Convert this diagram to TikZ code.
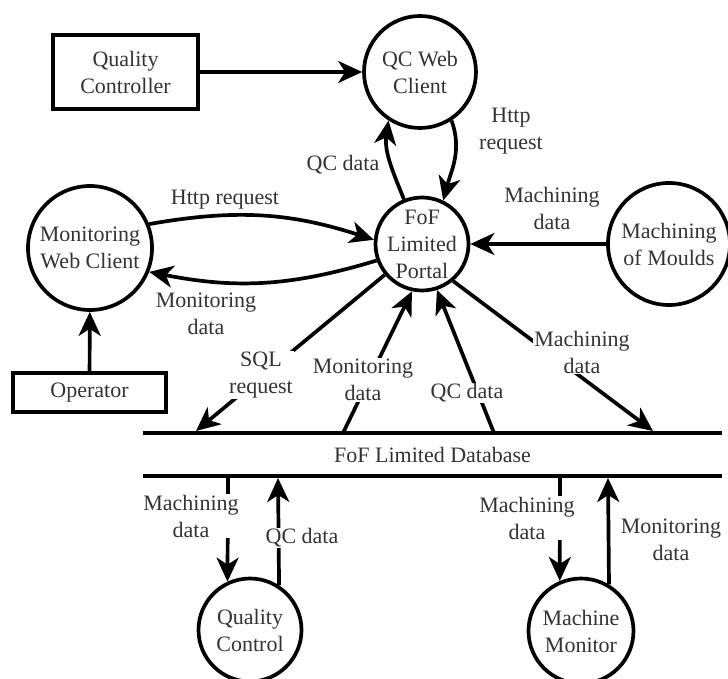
\documentclass[tikz,border=0pt]{standalone}
\usepackage{fontspec}
\setmainfont{Liberation Serif}
\usetikzlibrary{arrows.meta}
\tikzset{
    proc/.style = {circle, draw, line width=3.7pt, inner sep=-6pt, align=center},
    ext/.style = {rectangle, draw, line width=3.7pt, align=center},
    lbl/.style = {align=center, fill=white, inner sep=1pt},
    flow/.style = {line width=3.7pt, -{Stealth[length=24pt,width=22pt,inset=7pt]}},
}

\begin{document}
\begin{tikzpicture}[x=1pt, y=1pt, every node/.style={font=\fontsize{22}{27}\selectfont, text=black!80}]
    \useasboundingbox (0,0) rectangle (728,678);
    % entities and processes
    \node[ext, minimum width=145pt, minimum height=74pt] (qcc) at (125.5,606) {Quality\\Controller};
    \node[proc, minimum size=112pt] (qcweb) at (420,606) {QC Web\\Client};
    \node[proc, minimum size=93pt] (portal) at (422,434) {FoF\\Limited\\Portal};
    \node[proc, minimum size=122pt] (moulds) at (669,434) {Machining\\of Moulds};
    \node[proc, minimum size=124pt] (mweb) at (90,430) {Monitoring\\Web Client};
    \node[ext, minimum width=153pt, minimum height=39pt] (oper) at (89.5,285.5) {Operator};
    \node[proc, minimum size=103pt] (qctrl) at (250,48) {Quality\\Control};
    \node[proc, minimum size=105pt] (mmon) at (581,47) {Machine\\Monitor};
    % data store
    \node[minimum width=579pt, minimum height=43pt] (db) at (432.5,223.5) {FoF Limited Database};
    \draw[line width=3.7pt] (db.north west) -- (db.north east);
    \draw[line width=3.7pt] (db.south west) -- (db.south east);
    \coordinate (dbsql) at (196,247);
    \coordinate (dbmon) at (343,245);
    \coordinate (dbqc) at (494,245);
    \coordinate (dbmach) at (653,247);
    \coordinate (dbqca) at (228,202);
    \coordinate (dbqcb) at (278,200);
    \coordinate (dbmma) at (560,202);
    \coordinate (dbmmb) at (608,200);
    % flows
    \draw[flow] (qcc) -- (qcweb);
    \draw[flow] (portal.112) to[out=112, in=262] (qcweb.237);
    \draw[flow] (qcweb.303) to[out=-70, in=75] (portal.64);
    \draw[flow] (mweb.22) to[bend left=14] (portal.175);
    \draw[flow] (portal.200) to[bend left=14] (mweb.-22);
    \draw[flow] (moulds) -- (portal);
    \draw[flow] (oper) -- (mweb);
    \draw[flow] (portal) -- (dbsql);
    \draw[flow] (dbmon) -- (portal.258);
    \draw[flow] (dbqc) -- (portal.288);
    \draw[flow] (portal.310) -- (dbmach);
    \draw[flow] (dbqca) -- (qctrl.115);
    \draw[flow] (qctrl.57) -- (dbqcb);
    \draw[flow] (dbmma) -- (mmon.113);
    \draw[flow] (mmon.59) -- (dbmmb);
    % labels
    \node[lbl] (lqc1) at (343,513) {QC data};
    \node[lbl] (lhttp1) at (511,547) {Http\\request};
    \node[lbl] (lhttp2) at (225,478) {Http request};
    \node[lbl] (lmon1) at (206,364) {Monitoring\\data};
    \node[lbl] (lmach1) at (552,470) {Machining\\data};
    \node[lbl] (lsql) at (261,303) {SQL\\request};
    \node[lbl] (lmon2) at (363,298) {Monitoring\\data};
    \node[lbl] (lqc2) at (467,285) {QC data};
    \node[lbl] (lmach2) at (582,326) {Machining\\data};
    \node[lbl] (lmach3) at (191,162) {Machining\\data};
    \node[lbl] (lqc3) at (302,140) {QC data};
    \node[lbl] (lmach4) at (527,160) {Machining\\data};
    \node[lbl] (lmon3) at (671,138) {Monitoring\\data};
\end{tikzpicture}
\end{document}
